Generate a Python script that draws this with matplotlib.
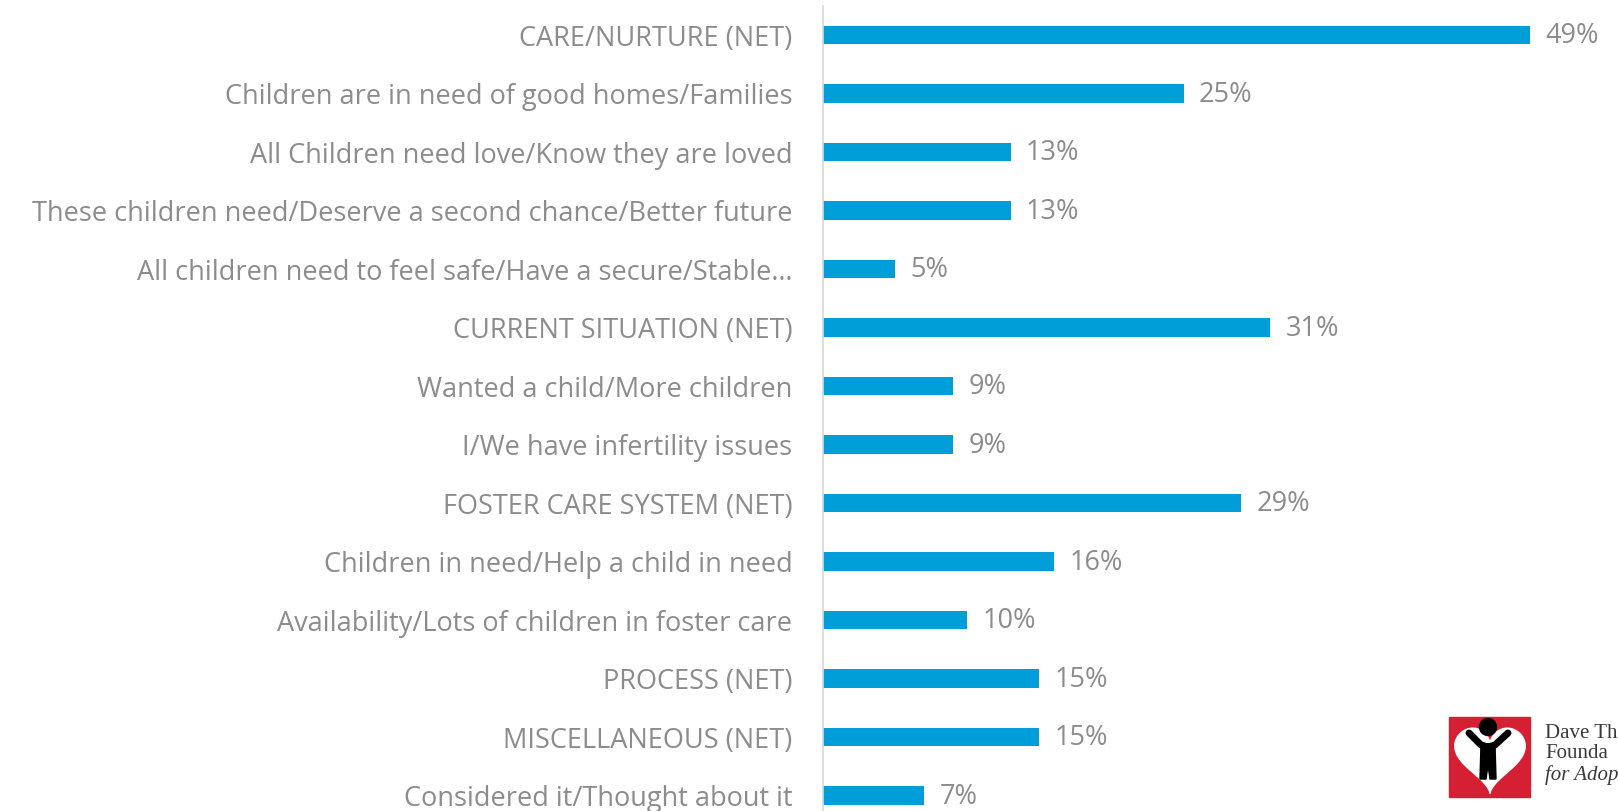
import numpy as np
import matplotlib
matplotlib.use("Agg")
import matplotlib.pyplot as plt
from matplotlib.patches import Rectangle, Polygon, Circle

# Survey data: reasons for considering adoption
labels = [
    "CARE/NURTURE (NET)",
    "Children are in need of good homes/Families",
    "All Children need love/Know they are loved",
    "These children need/Deserve a second chance/Better future",
    "All children need to feel safe/Have a secure/Stable\u2026",
    "CURRENT SITUATION (NET)",
    "Wanted a child/More children",
    "I/We have infertility issues",
    "FOSTER CARE SYSTEM (NET)",
    "Children in need/Help a child in need",
    "Availability/Lots of children in foster care",
    "PROCESS (NET)",
    "MISCELLANEOUS (NET)",
    "Considered it/Thought about it",
]
values = [49, 25, 13, 13, 5, 31, 9, 9, 29, 16, 10, 15, 15, 7]

W, H = 1618, 811
bar_color = "#009ED9"
text_color = "#8C8C8C"
font = "Open Sans"
fsize = 19.5

fig = plt.figure(figsize=(W / 100, H / 100), dpi=100)
fig.patch.set_facecolor("white")

left = 823 / W
row_px = 58.5
top_px = 35 - row_px / 2
ax_h = row_px * len(labels) / H
ax = fig.add_axes([left, 1 - top_px / H - ax_h, 1 - left, ax_h])

y = np.arange(len(labels))
ax.barh(y, values, height=0.31, color=bar_color)
ax.set_ylim(len(labels) - 0.5, -0.5)
ax.set_xlim(0, 795 / 14.43)

for yi, v in zip(y, values):
    ax.annotate(f"{v}%", (v, yi), xytext=(11, -1), textcoords="offset points",
                va="center", ha="left", color=text_color, fontsize=fsize, family=font)

ax.set_yticks(y)
ax.set_yticklabels(labels, color=text_color, fontsize=fsize, family=font)
ax.tick_params(axis="y", length=0, pad=22)
ax.set_xticks([])
for s in ["top", "right", "bottom"]:
    ax.spines[s].set_visible(False)
ax.spines["left"].set_color("#D9D9D9")
ax.spines["left"].set_linewidth(1.2)

# logo (bottom right), drawn in pixel coords
lax = fig.add_axes([0, 0, 1, 1], facecolor="none")
lax.set_xlim(0, W)
lax.set_ylim(H, 0)
lax.axis("off")
lax.add_patch(Rectangle((1449, 717), 81, 80, color="#D42032"))
t = np.linspace(0, 2 * np.pi, 200)
hx = 16 * np.sin(t) ** 3
hy = 13 * np.cos(t) - 5 * np.cos(2 * t) - 2 * np.cos(3 * t) - np.cos(4 * t)
lax.add_patch(Polygon(np.column_stack([1490 + hx * 2.2, 755 - hy * 2.25]), color="white"))
lax.add_patch(Circle((1488, 727), 8.5, color="black"))
lax.plot([1469, 1481, 1488, 1495, 1508], [733, 745, 747, 745, 733], color="black", lw=5,
         solid_capstyle="round", solid_joinstyle="round")
lax.add_patch(Polygon([(1481, 744), (1495, 744), (1496, 779), (1490, 779), (1488, 765),
                       (1486, 779), (1480, 779)], color="black"))
for i, line in enumerate(["Dave Th", "Founda", "for Adop"]):
    lax.text(1545, 733 + i * 21, line, fontsize=15, family="Liberation Serif",
             va="center", ha="left", color="#3A3A3A",
             style="italic" if i == 2 else "normal")

fig.savefig("out.png", dpi=100, facecolor="white")
